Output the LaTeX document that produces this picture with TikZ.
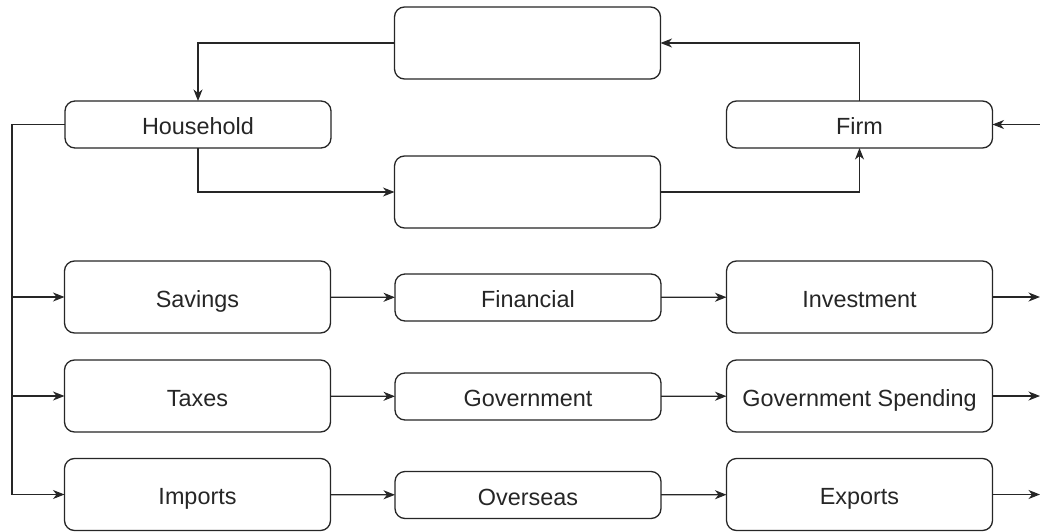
\documentclass[tikz,border=0pt]{standalone}
\usepackage{fontspec}
\setmainfont{Liberation Sans}
\usepackage{tikz}
\usetikzlibrary{arrows.meta}

\begin{document}
\begin{tikzpicture}
[x=1pt,y=-1pt,->,>={Stealth[length=11.5pt,width=9pt,inset=3.5pt]},line width=1.15pt,
 draw=black!85,font=\fontsize{23.4}{27}\selectfont]
  \tikzstyle{every node}=[draw=black!85,line width=1.3pt,fill=white,text=black!85,
    rounded corners=10pt,minimum width=266pt,inner sep=0pt,outer sep=0pt,
    text height=20pt,text depth=0pt]
  \tikzstyle{tall}=[minimum height=72pt]
  \tikzstyle{flat}=[minimum height=47pt]
  \useasboundingbox (0,0) rectangle (1040,532);

  \node[tall] (top)  at (527.5,43)  {};
  \node[tall] (bot)  at (527.5,192) {};
  \node[flat] (hh)   at (198,124.5) {Household};
  \node[flat] (firm) at (859.5,124.5) {Firm};

  \node[tall] (sav)  at (197.5,297)  {Savings};
  \node[flat] (fin)  at (528,297.5)  {Financial};
  \node[tall] (inv)  at (859.5,297)  {Investment};
  \node[tall] (tax)  at (197.5,396)  {Taxes};
  \node[flat] (gov)  at (528,396.5)  {Government};
  \node[tall] (gsp)  at (859.5,396)  {Government Spending};
  \node[tall] (imp)  at (197.5,494.5) {Imports};
  \node[flat] (ovs)  at (528,495)    {Overseas};
  \node[tall] (exp)  at (859.5,494.5) {Exports};

  \coordinate (trunk) at (12,494.5);
  \coordinate (feed)  at (1040,124.5);
  \coordinate (outI)  at (1040,297);
  \coordinate (outG)  at (1040,396);
  \coordinate (outE)  at (1040,494.5);

  \draw (top.west) -| (hh.north);
  \draw (firm.north) |- (top.east);
  \draw (hh.south) |- (bot.west);
  \draw (bot.east) -| (firm.south);
  \draw (feed) -- (firm.east);

  \draw (hh.west) -| (trunk) -- (imp.west);
  \draw (sav.west -| trunk) -- (sav.west);
  \draw (tax.west -| trunk) -- (tax.west);

  \path (sav) edge (fin)
        (fin) edge (inv)
        (inv) edge (outI)
        (tax) edge (gov)
        (gov) edge (gsp)
        (gsp) edge (outG)
        (imp) edge (ovs)
        (ovs) edge (exp)
        (exp) edge (outE);
\end{tikzpicture}
\end{document}
